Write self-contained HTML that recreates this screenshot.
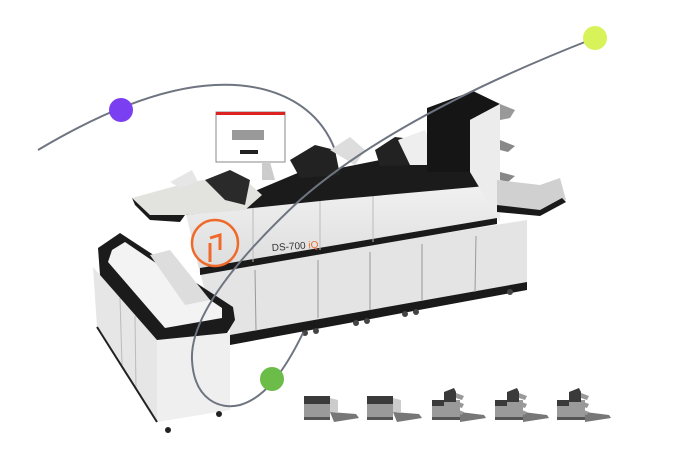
<!DOCTYPE html>
<html><head><meta charset="utf-8"><style>
html,body{margin:0;padding:0;background:#fff;width:679px;height:454px;overflow:hidden}
svg{display:block}
</style></head><body>
<svg width="679" height="454" viewBox="0 0 679 454" xmlns="http://www.w3.org/2000/svg">
<defs>
<linearGradient id="wg" x1="0" y1="0" x2="0" y2="1"><stop offset="0" stop-color="#f2f2f2"/><stop offset="1" stop-color="#dcdcdc"/></linearGradient>
<g id="th2">
  <rect x="0" y="12" width="26" height="20" fill="#9a9a9a"/>
  <rect x="0" y="8" width="26" height="8" fill="#3a3a3a"/>
  <rect x="0" y="29" width="26" height="3" fill="#555"/>
  <path d="M26 24 L52 26 L55 30 L30 34 Z" fill="#777"/>
  <path d="M26 10 L34 12 L34 24 L26 24Z" fill="#ccc"/>
</g>
<g id="th4">
  <rect x="0" y="12" width="28" height="20" fill="#9a9a9a"/>
  <rect x="0" y="12" width="12" height="6" fill="#3a3a3a"/>
  <path d="M12 4 L22 0 L24 4 L24 14 L12 14Z" fill="#3a3a3a"/>
  <rect x="0" y="29" width="28" height="3" fill="#555"/>
  <path d="M28 24 L52 27 L54 30 L28 34 Z" fill="#777"/>
  <path d="M24 5 L32 8 L30 12 L24 10Z M24 13 L32 16 L30 20 L24 18Z M24 21 L32 24 L30 27 L24 25Z" fill="#999"/>
</g>
</defs>

<path d="M38 150 C80 125 150 88 215 85 C280 82 320 110 335 150" fill="none" stroke="#6e7480" stroke-width="2"/>

<!-- left cabinet -->
<polygon points="93,267 157,340 157,422 97,327" fill="#e6e6e6"/>
<polygon points="157,340 230,333 230,410 157,422" fill="#efefef"/>
<line x1="120" y1="298" x2="122" y2="365" stroke="#bbb"/>
<line x1="135" y1="316" x2="136" y2="390" stroke="#bbb"/>
<line x1="97" y1="327" x2="157" y2="422" stroke="#222" stroke-width="2"/>
<circle cx="168" cy="430" r="3" fill="#222"/><circle cx="219" cy="414" r="3" fill="#222"/>

<!-- main lower cabinets -->
<polygon points="200,272 527,220 527,287 230,345 230,330 215,330" fill="#e4e4e4"/>
<polygon points="230,335 527,282 527,290 230,345" fill="#1a1a1a"/>
<g stroke="#999" stroke-width="1">
<line x1="255" y1="270" x2="256" y2="330"/><line x1="318" y1="260" x2="318" y2="318"/>
<line x1="370" y1="252" x2="370" y2="310"/><line x1="422" y1="244" x2="422" y2="300"/>
<line x1="476" y1="236" x2="475" y2="292"/>
</g>
<g fill="#444"><circle cx="305" cy="333" r="3"/><circle cx="316" cy="331" r="3"/><circle cx="356" cy="323" r="3"/><circle cx="367" cy="321" r="3"/><circle cx="405" cy="314" r="3"/><circle cx="416" cy="312" r="3"/><circle cx="510" cy="292" r="3"/></g>

<!-- upper white body -->
<polygon points="185,210 497,180 497,222 200,273" fill="url(#wg)"/>
<polygon points="200,268 497,218 497,224 200,275" fill="#1a1a1a"/>
<line x1="253" y1="205" x2="253" y2="262" stroke="#bbb"/>
<line x1="320" y1="196" x2="320" y2="250" stroke="#bbb"/>
<line x1="373" y1="188" x2="373" y2="242" stroke="#bbb"/>
<circle cx="215" cy="243" r="23" fill="none" stroke="#ef6a2a" stroke-width="2.5"/>
<path d="M210 238 L220 235 L220 250" fill="none" stroke="#ef6a2a" stroke-width="3"/>
<path d="M210 243 L210 262" stroke="#ef6a2a" stroke-width="3"/>
<text x="272" y="251" font-family="Liberation Sans, sans-serif" font-size="10" fill="#333" transform="rotate(-4 272 251)">DS-700 <tspan fill="#ef6a2a">iQ</tspan></text>

<!-- black top -->
<polygon points="178,213 250,193 300,172 340,168 380,160 470,162 497,175 497,185 330,200 185,215" fill="#1b1b1b"/>
<polygon points="290,160 315,145 335,150 340,175 300,178" fill="#222"/>
<polygon points="375,150 395,137 420,140 425,165 380,166" fill="#222"/>
<polygon points="330,150 350,137 365,150 355,165" fill="#ddd"/>
<polygon points="398,140 425,130 440,165 410,165" fill="#eee"/>

<!-- left infeed tray -->
<polygon points="132,198 190,182 240,175 262,195 245,210 185,215 150,215" fill="#e2e2de"/>
<polygon points="205,180 230,170 250,180 245,205 225,200" fill="#2a2a2a"/>
<polygon points="132,198 150,215 185,215 180,222 150,220 135,205" fill="#1a1a1a"/>
<polygon points="170,182 192,170 198,182 180,188" fill="#e6e6e6"/>

<!-- tower -->
<polygon points="427,108 473,91 500,104 470,120 470,172 427,172" fill="#151515"/>
<polygon points="470,120 500,104 500,222 470,172" fill="#ececec"/>
<polygon points="500,104 515,110 510,118 500,120" fill="#999"/>
<polygon points="500,140 515,146 508,152 500,150" fill="#888"/>
<polygon points="500,172 515,176 508,182 500,180" fill="#888"/>
<polygon points="497,180 540,185 560,178 566,200 540,210 520,214 497,205" fill="#d0d0d0"/>
<polygon points="497,205 540,210 562,198 566,202 540,216 497,212" fill="#1a1a1a"/>

<!-- monitor -->
<rect x="216" y="112" width="69" height="50" fill="#fff" stroke="#888"/>
<rect x="216" y="112" width="69" height="3" fill="#d22"/>
<rect x="232" y="130" width="32" height="10" fill="#999"/>
<rect x="240" y="150" width="18" height="4" fill="#222"/>
<polygon points="262,162 270,162 275,180 262,180" fill="#ccc"/>

<!-- left tray on cabinet -->
<polygon points="98,248 120,233 233,307 235,320 227,333 157,340 100,275" fill="#1b1b1b"/>
<polygon points="112,250 125,242 222,308 222,318 165,328 108,262" fill="#f3f3f3"/>
<polygon points="150,255 170,250 210,300 185,305" fill="#ddd"/>

<path d="M595 38 C500 75 380 130 300 200 C230 265 190 320 192 360 C194 400 220 410 240 405 C265 398 285 370 303 333" fill="none" stroke="#6e7480" stroke-width="2"/>

<circle cx="121" cy="110" r="12" fill="#7a3ff0"/>
<circle cx="595" cy="38" r="12" fill="#d8f25a"/>
<circle cx="272" cy="379" r="12" fill="#6cbc4a"/>

<use href="#th2" x="304" y="388"/>
<use href="#th2" x="367" y="388"/>
<use href="#th4" x="432" y="388"/>
<use href="#th4" x="495" y="388"/>
<use href="#th4" x="557" y="388"/>
</svg>
</body></html>
